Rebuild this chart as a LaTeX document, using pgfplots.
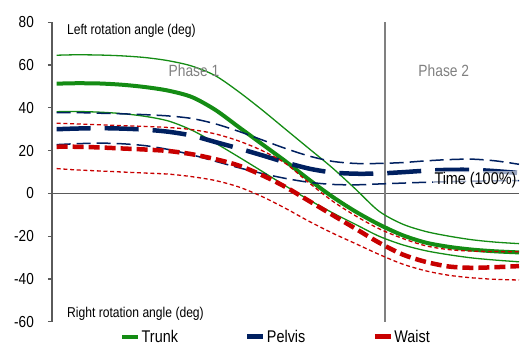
\documentclass[border=0pt]{standalone}
\usepackage{fontspec}
\setmainfont[FakeStretch=0.85]{Liberation Sans}
\usepackage{pgfplots}
\pgfplotsset{compat=1.18}

\definecolor{trunkgreen}{RGB}{20,140,20}
\definecolor{pelvisblue}{RGB}{0,32,96}
\definecolor{waistred}{RGB}{200,0,0}
\definecolor{axisgray}{RGB}{90,90,90}
\definecolor{phasegray}{RGB}{128,128,128}

\begin{document}
\begin{tikzpicture}
\begin{axis}[
  at={(0,0)}, anchor=south west,
  scale only axis, width=467bp, height=299.4bp,
  xmin=0, xmax=100, ymin=-60, ymax=80,
  axis x line=none,
  axis y line*=left,
  y axis line style={draw=axisgray, line width=1.2bp},
  ytick={-60,-40,-20,0,20,40,60,80},
  ytick style={draw=axisgray, line width=1.2bp},
  tick align=outside, major tick length=4bp,
  /pgf/number format/assume math mode=true,
  yticklabel style={font=\fontsize{16}{16}\selectfont, inner sep=0pt, anchor=east, xshift=-14bp},
  legend style={at={(0.1456,-0.051)}, anchor=west, draw=none, fill=none, inner sep=0pt,
    font=\fontsize{17}{17}\selectfont, nodes={inner sep=1bp},
    /tikz/every even column/.append style={column sep=66bp}},
  legend columns=3,
  legend image code/.code={\draw[#1] (0bp,0bp) -- (16bp,0bp);},
]
\addlegendimage{trunkgreen, line width=4.5bp}
\addlegendentry{Trunk}
\addlegendimage{pelvisblue, line width=5bp}
\addlegendentry{Pelvis}
\addlegendimage{waistred, line width=5bp}
\addlegendentry{Waist}

\draw[axisgray, line width=1.2bp] (axis cs:0,0) -- (axis cs:100,0);
\draw[phasegray, line width=1.3bp] (axis cs:71.3,-60) -- (axis cs:71.3,80);

% Trunk
\addplot[trunkgreen, line width=1.3bp, smooth, forget plot] coordinates {
(1,64.6) (5,64.8) (10,64.7) (15,64.3) (20,63.5) (25,62) (30,59.5) (35,55) (40,47.5) (45,39) (50,30) (55,21) (60,12) (65,2) (70,-8.3) (75,-14.3) (80,-17.8) (85,-20) (90,-21.7) (95,-22.8) (100,-23.5)};
\addplot[trunkgreen, line width=4bp, smooth, forget plot] coordinates {
(1,51.3) (5,51.5) (10,51.4) (15,50.8) (20,49.7) (25,48) (30,45) (35,39) (40,31) (45,23) (50,15) (55,6.5) (60,-1.5) (65,-8.5) (70,-14.5) (75,-19.5) (80,-23) (85,-25) (90,-26.3) (95,-27.1) (100,-27.6)};
\addplot[trunkgreen, line width=1.3bp, smooth, forget plot] coordinates {
(1,38.2) (5,38.3) (10,38) (15,37.3) (20,36) (25,33.8) (30,29.5) (35,23.5) (40,17) (45,10.3) (50,3.5) (55,-3) (60,-9) (65,-14.5) (70,-20) (75,-24) (80,-26.8) (85,-28.7) (90,-30.2) (95,-31.2) (100,-32)};

% Pelvis
\addplot[pelvisblue, line width=1.5bp, dash pattern=on 14bp off 6bp, smooth, forget plot] coordinates {
(1,37.8) (5,37.8) (10,37.5) (15,37.2) (20,36.8) (25,36.2) (30,35) (35,32.5) (40,29) (45,25) (50,21) (55,17.5) (60,15) (65,14) (70,14) (75,14.4) (80,15.2) (85,15.8) (90,16) (95,15.2) (100,13.6)};
\addplot[pelvisblue, line width=4.5bp, dash pattern=on 34bp off 14bp, smooth, forget plot] coordinates {
(1,30) (5,30.3) (10,30.5) (15,30.3) (20,29.8) (25,28.8) (30,27) (35,24) (40,21) (45,17.8) (50,14.5) (55,11.6) (60,9.8) (65,9.2) (70,9.3) (75,9.9) (80,10.6) (85,11) (90,11) (95,10.4) (100,9.5)};
\addplot[pelvisblue, line width=1.5bp, dash pattern=on 14bp off 6bp, smooth, forget plot] coordinates {
(1,22.8) (5,23.2) (10,23.5) (15,23.2) (20,22.3) (25,20.5) (30,18) (35,15) (40,12) (45,9.3) (50,7) (55,5.2) (60,4.2) (65,4) (70,4.4) (75,4.8) (80,5.2) (85,5.5) (90,5.7) (95,5.9) (100,6)};

% Waist
\addplot[waistred, line width=1.3bp, dash pattern=on 4bp off 2.7bp, smooth, forget plot] coordinates {
(1,32.8) (5,32.5) (10,32.1) (15,31.7) (20,31.3) (25,30.8) (30,29.8) (35,27.8) (40,24.5) (45,20) (50,14) (55,5) (60,-3.5) (65,-10.5) (70,-16.5) (75,-21) (80,-24.5) (85,-26.3) (90,-27) (95,-27.2) (100,-27.3)};
\addplot[waistred, line width=4.5bp, dash pattern=on 11bp off 5bp, smooth, forget plot] coordinates {
(1,21.8) (5,21.8) (10,21.5) (15,21) (20,20.5) (25,19.8) (30,18.3) (35,16) (40,13) (45,8.5) (50,3) (55,-3.5) (60,-10) (65,-16.5) (70,-23) (75,-28.5) (80,-32) (85,-34.2) (90,-34.8) (95,-34.5) (100,-34)};
\addplot[waistred, line width=1.3bp, dash pattern=on 4bp off 2.7bp, smooth, forget plot] coordinates {
(1,11.6) (5,11) (10,10.5) (15,10) (20,9.5) (25,9) (30,7.8) (35,6) (40,3) (45,-1.5) (50,-7) (55,-13) (60,-18.5) (65,-23.5) (70,-28.5) (75,-33) (80,-36.2) (85,-38.3) (90,-39.5) (95,-40.2) (100,-40.5)};

\node[anchor=west, inner sep=0pt, font=\fontsize{14.3}{14.3}\selectfont] at (axis cs:3.2,75.9) {Left rotation angle (deg)};
\node[anchor=west, inner sep=0pt, font=\fontsize{14.3}{14.3}\selectfont] at (axis cs:3.2,-56.1) {Right rotation angle (deg)};
\node[text=phasegray, inner sep=0pt, font=\fontsize{16.3}{16.3}\selectfont] at (axis cs:30.4,57.6) {Phase 1};
\node[text=phasegray, inner sep=0pt, font=\fontsize{16.3}{16.3}\selectfont] at (axis cs:83.9,57.6) {Phase 2};
\node[anchor=east, fill=white, fill opacity=0.6, text opacity=1, inner sep=1.5bp, font=\fontsize{17}{17}\selectfont] at (axis cs:99.8,6.2) {Time (100\%)};
\end{axis}
\pgfresetboundingbox
\path (-52bp,-37.3bp) rectangle (480bp,321.7bp);
\end{tikzpicture}
\end{document}
